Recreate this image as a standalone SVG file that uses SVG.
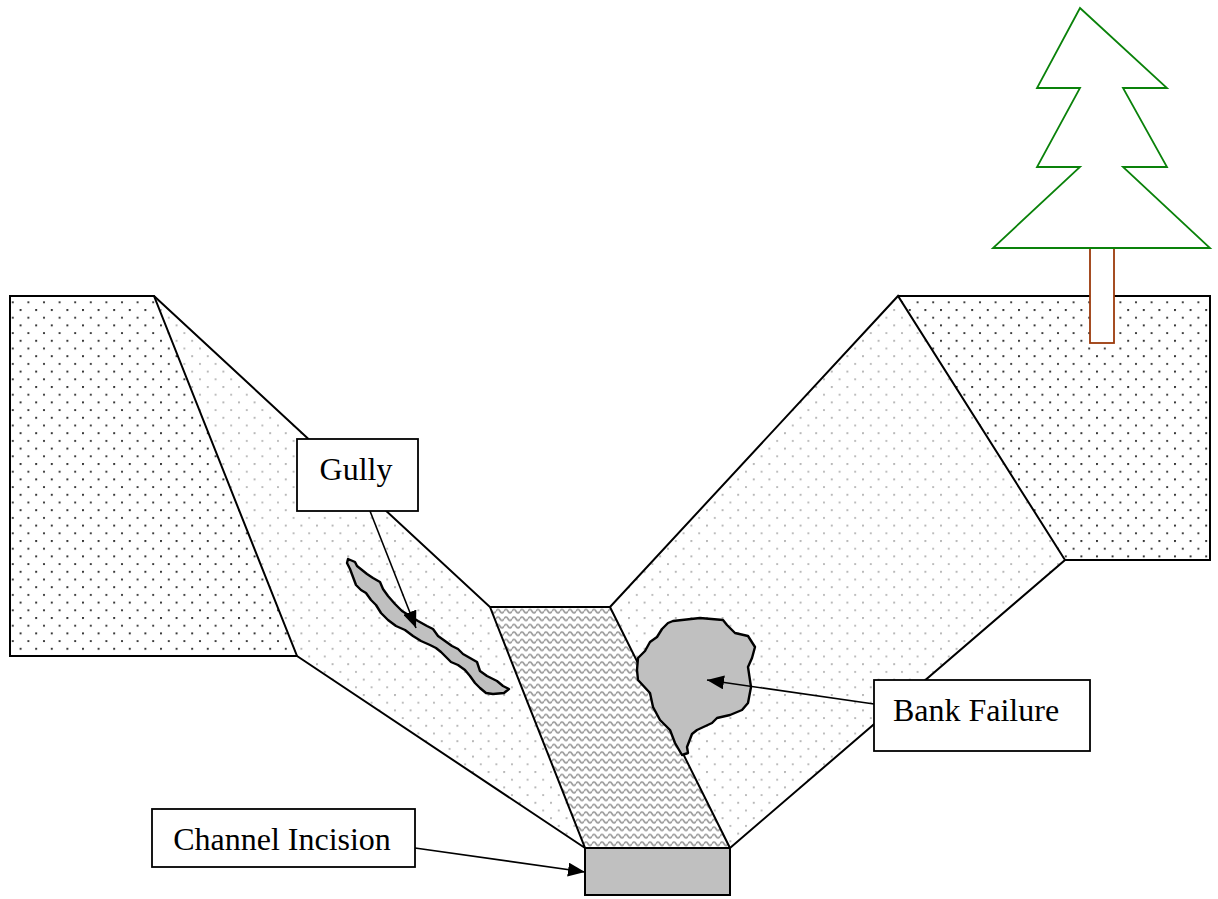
<svg xmlns="http://www.w3.org/2000/svg" width="1218" height="899" viewBox="0 0 1218 899">
<style>
.edge{fill:none;stroke:#000;stroke-width:2;stroke-linejoin:miter}
.box{fill:#fff;stroke:#000;stroke-width:1.8}
.lbl{font-family:"Liberation Serif","Times New Roman",serif;font-size:32px;fill:#000;text-anchor:middle}
.con{fill:none;stroke:#000;stroke-width:1.6}
.blob{fill:#c0c0c0;stroke:#000;stroke-width:2.4;stroke-linejoin:round}
</style>
<defs>
<pattern id="darkDots" patternUnits="userSpaceOnUse" x="4" y="1" width="15.6" height="15.4">
<circle cx="1" cy="1" r="1.1" fill="#222"/>
<circle cx="8.8" cy="8.7" r="1.1" fill="#222"/>
</pattern>
<pattern id="lightDots" patternUnits="userSpaceOnUse" x="4" y="1" width="15.6" height="15.4">
<circle cx="1" cy="1" r="1.05" fill="#b0b0b0"/>
<circle cx="8.8" cy="8.7" r="1.05" fill="#b0b0b0"/>
</pattern>
<pattern id="waves" patternUnits="userSpaceOnUse" x="0" y="0" width="8" height="7.5">
<path d="M0,3.75 C1.3,1.4 2.7,1.4 4,3.75 S6.7,6.1 8,3.75" fill="none" stroke="#999" stroke-width="1.7"/>
</pattern>
<marker id="ah" markerWidth="18" markerHeight="14" refX="17" refY="7" orient="auto" markerUnits="userSpaceOnUse">
<path d="M0,0 L17,7 L0,14 z" fill="#000"/>
</marker>
</defs>

<g id="terrain">
<polygon id="left-bank" points="10,296 154,296 297,656 10,656" fill="url(#darkDots)"/>
<polygon id="left-slope" points="154,296 490,607 585,848 297,656" fill="url(#lightDots)"/>
<polygon id="channel" points="490,607 610,607 730,848 585,848" fill="url(#waves)"/>
<polygon id="right-slope" points="610,607 898,296 1065,560 730,848" fill="url(#lightDots)"/>
<polygon id="right-bank" points="898,296 1210,296 1210,560 1065,560" fill="url(#darkDots)"/>
<polygon class="edge" points="10,296 154,296 297,656 10,656"/>
<polyline class="edge" points="154,296 490,607 585,848 297,656"/>
<polyline class="edge" points="490,607 610,607 730,848"/>
<polyline class="edge" points="610,607 898,296 1065,560 730,848"/>
<polyline class="edge" points="898,296 1210,296 1210,560 1065,560"/>
</g>

<g id="tree">
<rect id="trunk" x="1090" y="248" width="24" height="95" fill="#fff" stroke="#9c3a0c" stroke-width="1.8"/>
<polygon id="crown" points="1080,8 1167,88 1123,88 1167,167 1123,167 1210,248 993,248 1080,167 1037,167 1080,88 1037,88" fill="#fff" stroke="#0a820a" stroke-width="1.8" stroke-linejoin="miter"/>
</g>

<g id="channel-incision">
<rect x="585" y="848" width="145" height="47" fill="#c0c0c0" stroke="#000" stroke-width="2"/>
</g>

<g id="gully-shape">
<path class="blob" d="M348,559 L355,562 L357,566 L362,570 L367,574 L373,578 L380,582 L383,589 L388,596 L395,604 L402,611 L410,616 L418,621 L427,626 L433,629 L438,636 L445,641 L452,646 L458,649 L463,654 L470,658 L477,662 L480,671 L487,676 L497,681 L503,686 L509,689 L504,693 L493,694 L486,693 L480,688 L475,683 L470,676 L465,670 L458,665 L451,662 L446,657 L441,652 L436,648 L430,645 L421,641 L413,636 L405,630 L396,626 L388,620 L381,613 L376,605 L371,600 L366,593 L361,590 L356,585 L353,577 L350,569 L347,563 Z"/>
</g>

<g id="bank-failure-shape">
<path class="blob" d="M673,621 L700,618 L723,620 L727,625 L735,633 L748,636 L755,647 L752,658 L748,667 L751,687 L748,703 L742,710 L730,715 L717,718 L712,723 L697,730 L692,734 L687,747 L688,753 L682,755 L675,743 L670,730 L660,720 L653,707 L650,693 L638,680 L637,670 L638,658 L645,651 L650,642 L657,637 L662,629 L668,623 Z"/>
</g>

<g id="connectors">
<line class="con" x1="370" y1="511" x2="416" y2="628" marker-end="url(#ah)"/>
<line class="con" x1="874" y1="704" x2="707" y2="680" marker-end="url(#ah)"/>
<line class="con" x1="415" y1="848" x2="585" y2="872" marker-end="url(#ah)"/>
</g>

<g id="label-gully">
<rect class="box" x="297" y="439" width="121" height="72"/>
<text class="lbl" x="356" y="480">Gully</text>
</g>
<g id="label-bank-failure">
<rect class="box" x="874" y="680" width="216" height="71"/>
<text class="lbl" x="976" y="721">Bank Failure</text>
</g>
<g id="label-channel-incision">
<rect class="box" x="152" y="809" width="263" height="58"/>
<text class="lbl" x="282" y="850">Channel Incision</text>
</g>
</svg>
